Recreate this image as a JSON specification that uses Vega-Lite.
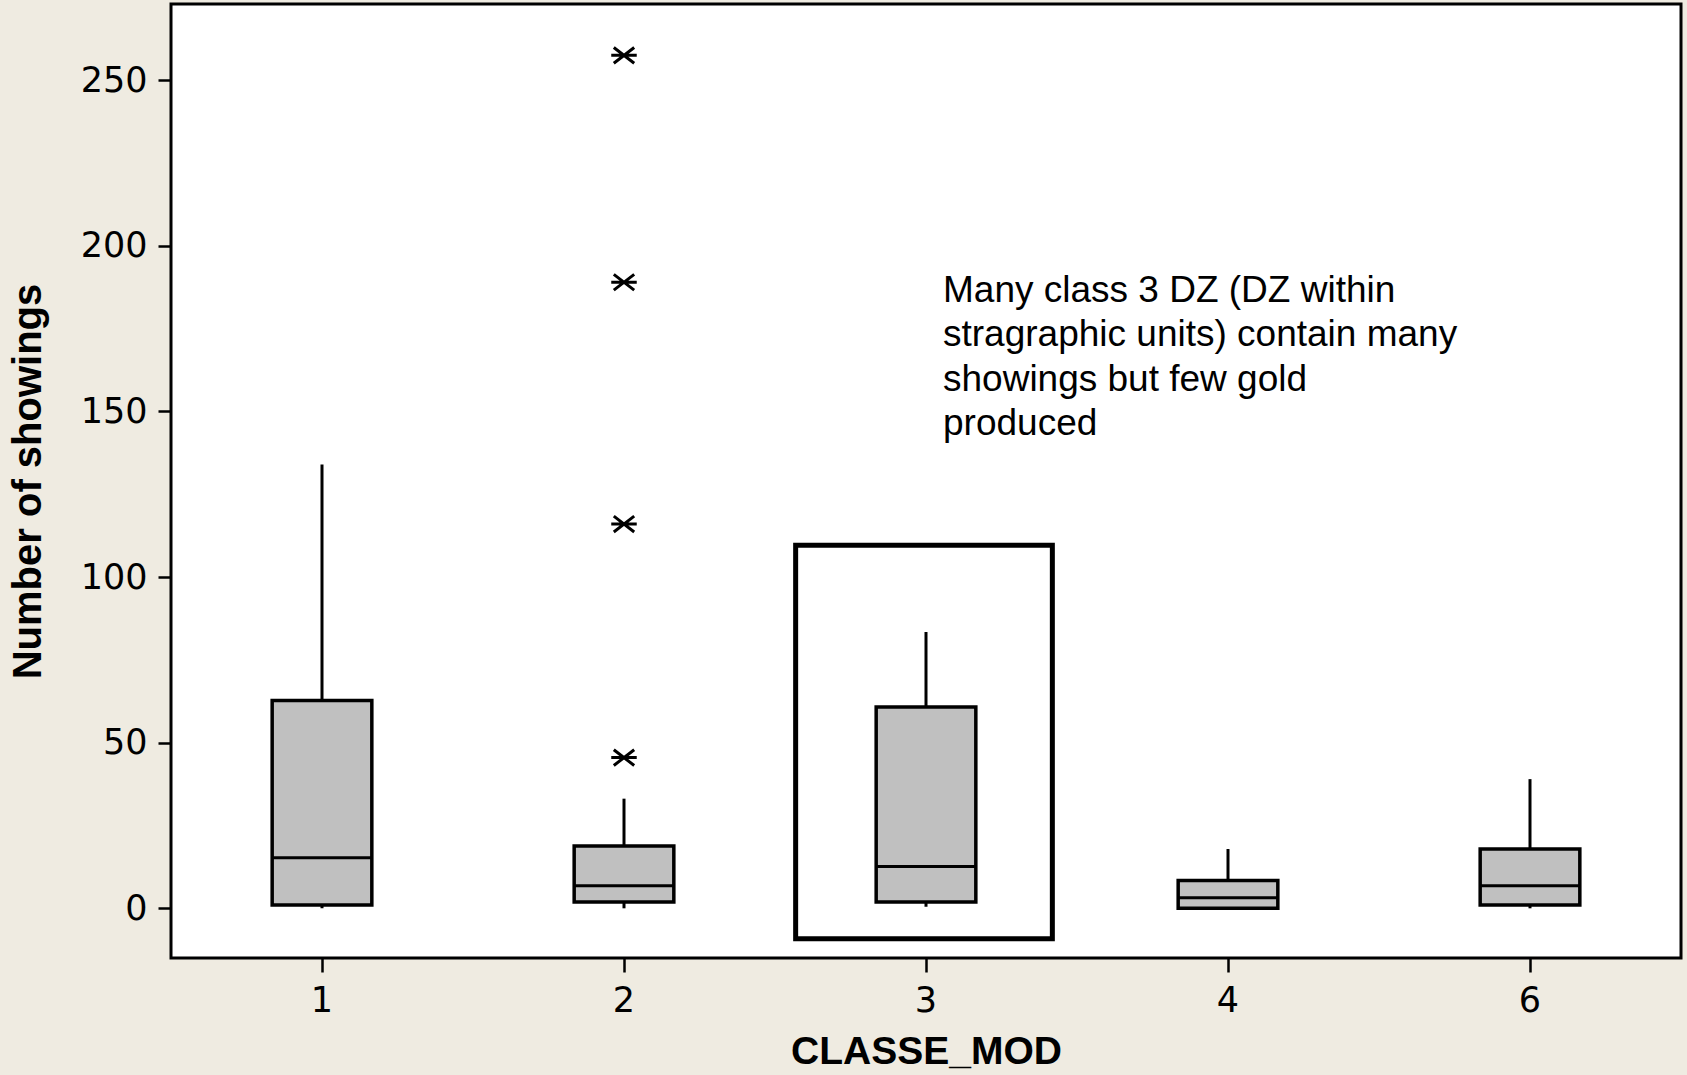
{
  "$schema": "https://vega.github.io/schema/vega-lite/v6.json",
  "width": 1510,
  "height": 954,
  "autosize": {"type": "none"},
  "padding": {"left": 171, "top": 4, "right": 6, "bottom": 117},
  "background": "#efebe1",
  "config": {
    "view": {"fill": "white", "stroke": "black", "strokeWidth": 3},
    "axisY": {
      "domain": false, "grid": false, "ticks": true, "tickSize": 13, "tickWidth": 2.5, "tickColor": "black",
      "labelFont": "DejaVu Sans", "labelFontSize": 35, "labelColor": "black", "labelPadding": 11,
      "titleFont": "Liberation Sans", "titleFontWeight": "bold", "titleFontSize": 40, "titleColor": "black", "titlePadding": 32
    },
    "axisX": {
      "domain": false, "grid": false, "ticks": true, "tickSize": 14, "tickWidth": 2.5, "tickColor": "black",
      "labelFont": "DejaVu Sans", "labelFontSize": 35, "labelColor": "black", "labelPadding": 11, "labelAngle": 0,
      "titleFont": "Liberation Sans", "titleFontWeight": "bold", "titleFontSize": 39, "titleColor": "black", "titlePadding": 14
    }
  },
  "datasets": {
    "boxes": [
      {"classe": "1", "low": 0, "q1": 1.0, "median": 15.3, "q3": 62.7, "high": 134},
      {"classe": "2", "low": 0, "q1": 1.9, "median": 6.8, "q3": 18.8, "high": 33.1},
      {"classe": "3", "low": 0.5, "q1": 1.9, "median": 12.6, "q3": 60.8, "high": 83.4},
      {"classe": "4", "low": 0, "q1": 0, "median": 3.2, "q3": 8.4, "high": 17.9},
      {"classe": "6", "low": 0, "q1": 1.0, "median": 6.8, "q3": 17.9, "high": 39}
    ],
    "outliers": [
      {"classe": "2", "value": 257.5},
      {"classe": "2", "value": 189},
      {"classe": "2", "value": 116},
      {"classe": "2", "value": 45.5}
    ],
    "highlight": [
      {"classe": "3", "top": 109.6, "bottom": -9.2}
    ],
    "note": [
      {"classe": "3", "value": 183.1, "label": ["Many class 3 DZ (DZ within", "stragraphic units) contain many", "showings but few gold", "produced"]}
    ]
  },
  "layer": [
    {
      "data": {"name": "highlight"},
      "mark": {"type": "bar", "width": {"band": 0.85}, "xOffset": -2, "fill": "white", "fillOpacity": 0, "stroke": "black", "strokeWidth": 5},
      "encoding": {
        "x": {"field": "classe", "type": "ordinal", "title": "CLASSE_MOD", "scale": {"domain": ["1", "2", "3", "4", "6"], "paddingInner": 0, "paddingOuter": 0}},
        "y": {"field": "top", "type": "quantitative", "title": "Number of showings", "scale": {"domain": [-15, 273], "nice": false, "zero": false}, "axis": {"values": [0, 50, 100, 150, 200, 250]}},
        "y2": {"field": "bottom"}
      }
    },
    {
      "data": {"name": "boxes"},
      "mark": {"type": "rule", "stroke": "black", "strokeWidth": 3},
      "encoding": {
        "x": {"field": "classe", "type": "ordinal", "title": "CLASSE_MOD"},
        "y": {"field": "low", "type": "quantitative", "title": "Number of showings"},
        "y2": {"field": "high"}
      }
    },
    {
      "data": {"name": "boxes"},
      "mark": {"type": "bar", "width": {"band": 0.33}, "fill": "#c0c0c0", "stroke": "black", "strokeWidth": 3.5},
      "encoding": {
        "x": {"field": "classe", "type": "ordinal", "title": "CLASSE_MOD"},
        "y": {"field": "q1", "type": "quantitative", "title": "Number of showings"},
        "y2": {"field": "q3"}
      }
    },
    {
      "data": {"name": "boxes"},
      "mark": {"type": "bar", "width": {"band": 0.33}, "fillOpacity": 0, "stroke": "black", "strokeWidth": 3},
      "encoding": {
        "x": {"field": "classe", "type": "ordinal", "title": "CLASSE_MOD"},
        "y": {"field": "median", "type": "quantitative", "title": "Number of showings"},
        "y2": {"field": "median"}
      }
    },
    {
      "data": {"name": "outliers"},
      "mark": {"type": "point", "filled": false, "shape": "M-1,0L1,0M-0.8,-0.62L0.8,0.62M-0.8,0.62L0.8,-0.62", "size": 650, "stroke": "black", "strokeWidth": 3, "opacity": 1},
      "encoding": {
        "x": {"field": "classe", "type": "ordinal", "title": "CLASSE_MOD"},
        "y": {"field": "value", "type": "quantitative", "title": "Number of showings"}
      }
    },
    {
      "data": {"name": "note"},
      "mark": {"type": "text", "align": "left", "baseline": "alphabetic", "dx": 17, "font": "Liberation Sans", "fontSize": 37, "lineHeight": 44.5, "color": "black"},
      "encoding": {
        "x": {"field": "classe", "type": "ordinal", "title": "CLASSE_MOD"},
        "y": {"field": "value", "type": "quantitative", "title": "Number of showings"},
        "text": {"field": "label"}
      }
    }
  ]
}
